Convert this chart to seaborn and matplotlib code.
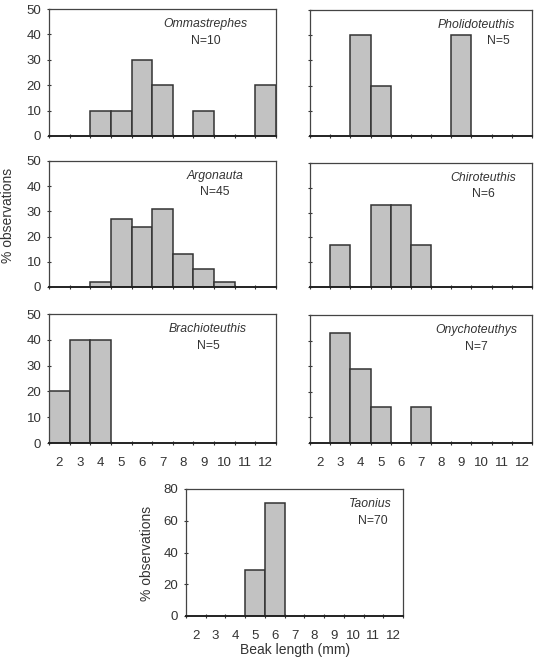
import numpy as np
import pandas as pd
import matplotlib
matplotlib.use("Agg")
import matplotlib.pyplot as plt
import seaborn as sns

# beak length classes (mm) and % observations per species
ommastrephes_len = [4, 5, 6, 7, 9, 12]
ommastrephes_pct = [10, 10, 30, 20, 10, 20]

pholidoteuthis_len = [4, 5, 9]
pholidoteuthis_pct = [40, 20, 40]

argonauta_len = [4, 5, 6, 7, 8, 9, 10]
argonauta_pct = [2, 27, 24, 31, 13, 7, 2]

chiroteuthis_len = [3, 5, 6, 7]
chiroteuthis_pct = [17, 33, 33, 17]

brachioteuthis_len = [2, 3, 4]
brachioteuthis_pct = [20, 40, 40]

onychoteuthys_len = [3, 4, 5, 7]
onychoteuthys_pct = [43, 29, 14, 14]

taonius_len = [5, 6]
taonius_pct = [29, 71]

sns.set_theme(style="white")
plt.rcParams['font.family'] = ['Liberation Sans', 'DejaVu Sans']

W, H = 534, 657
fig = plt.figure(figsize=(W / 100, H / 100), dpi=100)


def box(left, right, top, bottom):
    return [left / W, 1 - bottom / H, (right - left) / W, (bottom - top) / H]


panels = [
    # name, N, lengths, pct, rect(px), ylabels?, xlabels?, text x, N x (axes frac)
    ("Ommastrephes", 10, ommastrephes_len, ommastrephes_pct, (49, 276, 9, 136), True, False, 0.69, 0.69),
    ("Pholidoteuthis", 5, pholidoteuthis_len, pholidoteuthis_pct, (310, 532, 10, 136), False, False, 0.75, 0.85),
    ("Argonauta", 45, argonauta_len, argonauta_pct, (49, 276, 161, 287), True, False, 0.73, 0.73),
    ("Chiroteuthis", 6, chiroteuthis_len, chiroteuthis_pct, (310, 532, 163, 287), False, False, 0.78, 0.78),
    ("Brachioteuthis", 5, brachioteuthis_len, brachioteuthis_pct, (49, 276, 314, 443), True, True, 0.70, 0.70),
    ("Onychoteuthys", 7, onychoteuthys_len, onychoteuthys_pct, (310, 532, 315, 443), False, True, 0.75, 0.75),
    ("Taonius", 70, taonius_len, taonius_pct, (186, 403, 489, 616), True, True, 0.85, 0.86),
]

for name, n, lens, pct, rect, ylab, xlab, tx, nx in panels:
    ax = fig.add_axes(box(*rect))
    df = pd.DataFrame({"length": lens, "pct": pct})
    sns.histplot(data=df, x="length", weights="pct", discrete=True, ax=ax,
                 color="#c2c2c2", edgecolor="#333333", linewidth=1.1, alpha=1)
    ax.set_xlim(1.5, 12.5)
    ymax = 80 if name == "Taonius" else 50
    step = 20 if name == "Taonius" else 10
    ax.set_ylim(0, ymax)
    ax.set_yticks(np.arange(0, ymax + 1, step))
    ax.set_xticks(range(2, 13))
    ax.set_xticks(np.arange(1.5, 12.6, 1), minor=True)
    ax.set_xlabel("")
    ax.set_ylabel("")
    ax.tick_params(axis="x", which="major", length=0, labelsize=9.5, pad=10,
                   labelbottom=xlab, colors="#333333")
    ax.tick_params(axis="x", which="minor", length=3, direction="inout",
                   bottom=True, color="#333333", width=0.8)
    ax.tick_params(axis="y", length=3, direction="inout", left=True,
                   labelleft=ylab, labelsize=9.5, color="#333333",
                   labelcolor="#333333", width=0.8, pad=4)
    for s in ax.spines.values():
        s.set_color("#444444")
        s.set_linewidth(0.9)
    ax.spines["bottom"].set_linewidth(1.4)
    ax.spines["bottom"].set_color("#222222")
    ax.text(tx, 0.88, name, transform=ax.transAxes, ha="center", va="center",
            fontsize=8.8, style="italic", color="#333333")
    ax.text(nx, 0.75, f"N={n}", transform=ax.transAxes, ha="center", va="center",
            fontsize=8.8, color="#333333")

fig.text(8 / W, 1 - 215 / H, "% observations", rotation=90, ha="center",
         va="center", fontsize=10, color="#333333")
fig.text(147 / W, 1 - 553 / H, "% observations", rotation=90, ha="center",
         va="center", fontsize=10, color="#333333")
fig.text(295 / W, 1 - 650 / H, "Beak length (mm)", ha="center",
         va="center", fontsize=10, color="#333333")

fig.savefig("out.png", dpi=100)
